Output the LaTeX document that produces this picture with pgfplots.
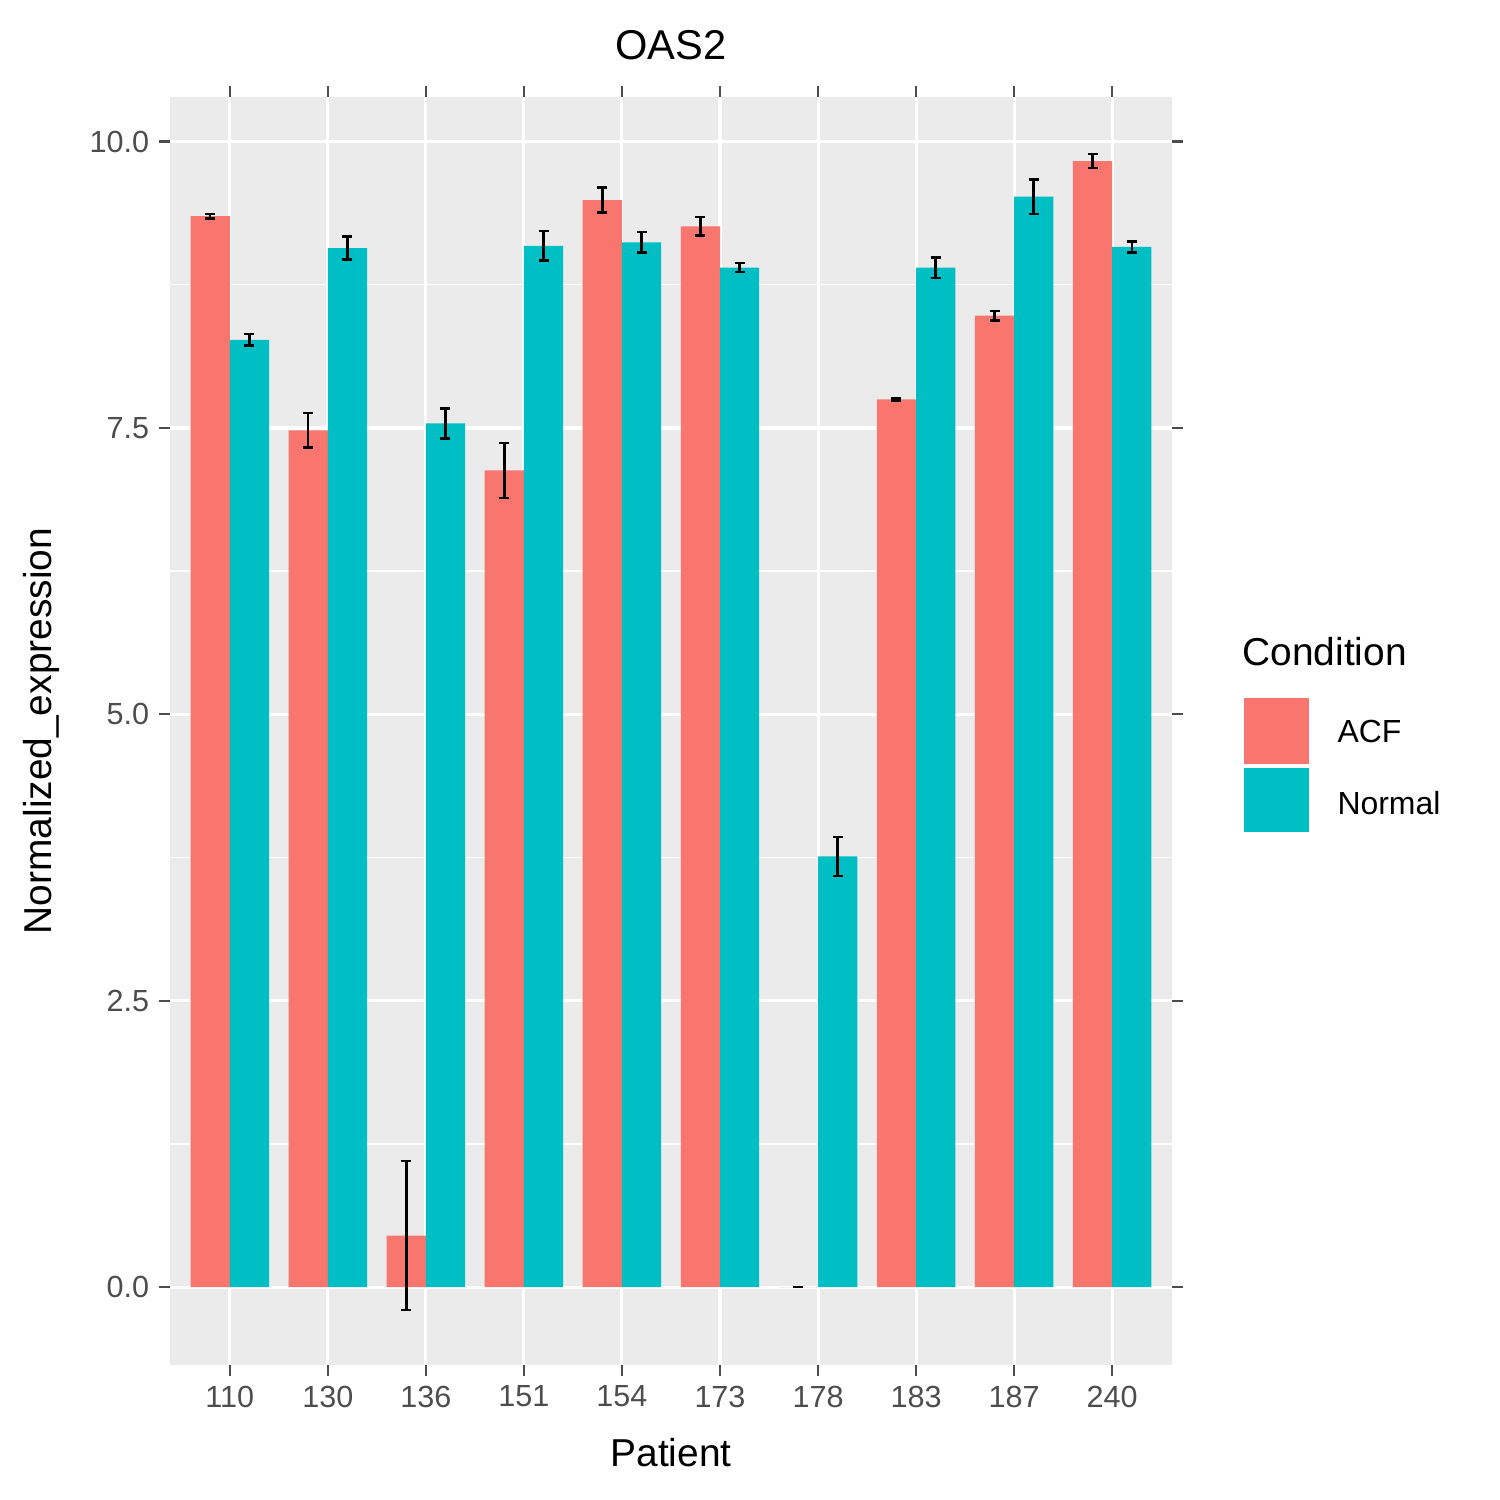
\documentclass[border=0pt]{standalone}
\usepackage{pgfplots}
\pgfplotsset{compat=1.18}
\usepackage{fontspec}
\setmainfont{Liberation Sans}
\definecolor{bg}{HTML}{EBEBEB}
\definecolor{acf}{HTML}{F8766D}
\definecolor{nor}{HTML}{00BFC4}
\definecolor{tk}{HTML}{4D4D4D}
\begin{document}
\begin{tikzpicture}
\useasboundingbox (-61.2pt,-48.6pt) rectangle (478.8pt,491.4pt);
\begin{axis}[at={(0,0)},anchor=south west,scale only axis,
width=360.7pt,height=456.5pt,
xmin=-0.61,xmax=9.61,ymin=-0.68,ymax=10.39,
axis background/.style={fill=bg},axis line style={draw=none},
xtick={0,...,9},xticklabels={110,130,136,151,154,173,178,183,187,240},
ytick={0,2.5,5,7.5,10},yticklabels={0.0,2.5,5.0,7.5,10.0},
minor ytick={1.25,3.75,6.25,8.75},
grid=both,major grid style={white,line width=1.1pt},minor grid style={white,line width=0.5pt},
tick align=outside,major tick length=4pt,minor tick length=0pt,
tick style={tk,line width=0.8pt},
ticklabel style={font=\fontsize{11}{13}\selectfont,text=tk},
ybar,bar width=0.4,
error bars/error bar style={black,line width=0.9pt},
error bars/error mark options={black,rotate=90,mark size=1.8pt,line width=0.9pt},
]
\addplot[fill=acf,draw=none,bar shift=-0.2,error bars/.cd,y dir=both,y explicit] coordinates {
(0,9.35)+-(0,0.02) (1,7.48)+-(0,0.15) (2,0.45)+-(0,0.65) (3,7.13)+-(0,0.24) (4,9.49)+-(0,0.11)
(5,9.26)+-(0,0.08) (6,0)+-(0,0) (7,7.75)+-(0,0.01) (8,8.48)+-(0,0.04) (9,9.83)+-(0,0.06)};
\addplot[fill=nor,draw=none,bar shift=0.2,error bars/.cd,y dir=both,y explicit] coordinates {
(0,8.27)+-(0,0.05) (1,9.07)+-(0,0.1) (2,7.54)+-(0,0.13) (3,9.09)+-(0,0.13) (4,9.12)+-(0,0.09)
(5,8.9)+-(0,0.04) (6,3.76)+-(0,0.17) (7,8.9)+-(0,0.09) (8,9.52)+-(0,0.15) (9,9.08)+-(0,0.05)};
\end{axis}
\node[font=\fontsize{15}{18}\selectfont] at (180.4pt,475.2pt) {OAS2};
\node[font=\fontsize{14}{17}\selectfont] at (180.4pt,-31.7pt) {Patient};
\node[font=\fontsize{14}{17}\selectfont,rotate=90] at (-46.1pt,228.2pt) {Normalized\_expression};
\node[font=\fontsize{14}{17}\selectfont,anchor=west,inner sep=0pt] at (385.9pt,256.7pt) {Condition};
\fill[acf,draw=white,line width=0.8pt] (386.3pt,216.0pt) rectangle (410.4pt,240.5pt);
\fill[nor,draw=white,line width=0.8pt] (386.3pt,191.5pt) rectangle (410.4pt,215.3pt);
\node[font=\fontsize{11.5}{14}\selectfont,anchor=west,inner sep=0pt] at (420.1pt,228.2pt) {ACF};
\node[font=\fontsize{11.5}{14}\selectfont,anchor=west,inner sep=0pt] at (420.1pt,202.3pt) {Normal};
\end{tikzpicture}
\end{document}
